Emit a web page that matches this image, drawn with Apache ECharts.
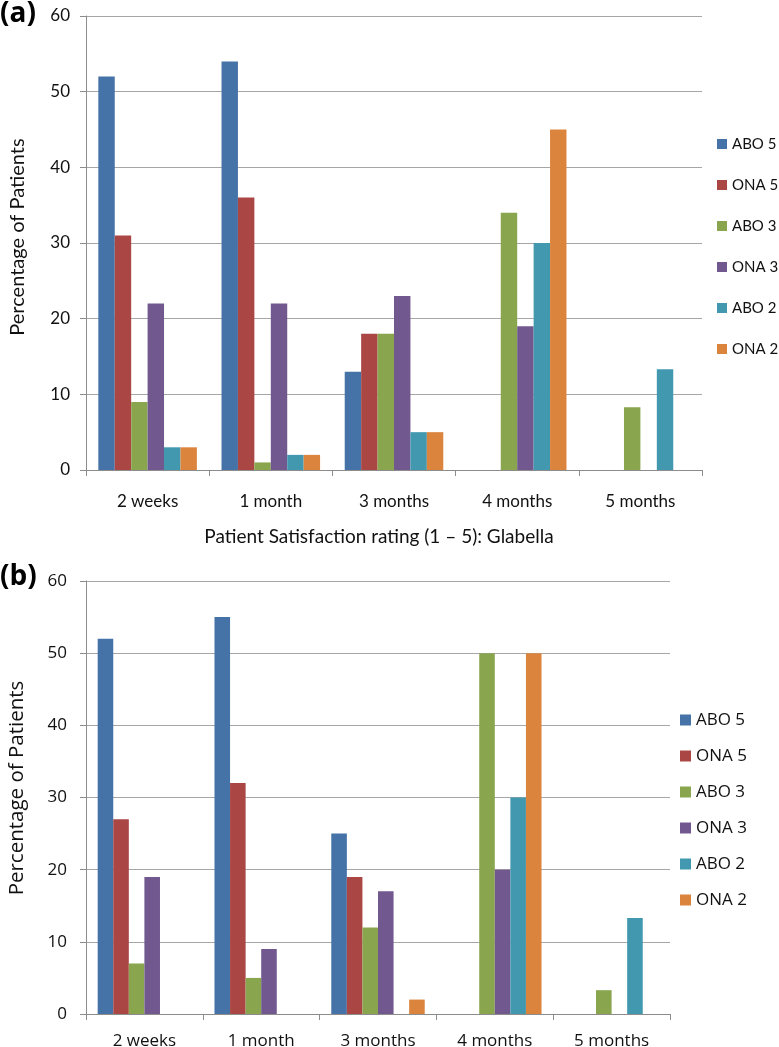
<!DOCTYPE html>
<html>
<head>
<meta charset="utf-8">
<script src="https://cdn.jsdelivr.net/npm/echarts@6/dist/echarts.min.js"></script>
<style>
  html, body { margin: 0; padding: 0; background: #fff; }
  #chart { width: 779px; height: 1047px; }
</style>
</head>
<body>
<div id="chart"></div>
<script>
// ---- data ----
const categories = ['2 weeks', '1 month', '3 months', '4 months', '5 months'];
const seriesNames = ['ABO 5', 'ONA 5', 'ABO 3', 'ONA 3', 'ABO 2', 'ONA 2'];
const yTicks = [0, 10, 20, 30, 40, 50, 60];

// Panel (a)
const abo5A = [52, 54, 13, null, null];
const ona5A = [31, 36, 18, null, null];
const abo3A = [9, 1, 18, 34, 8.3];
const ona3A = [22, 22, 23, 19, null];
const abo2A = [3, 2, 5, 30, 13.3];
const ona2A = [3, 2, 5, 45, null];

// Panel (b)
const abo5B = [52, 55, 25, null, null];
const ona5B = [27, 32, 19, null, null];
const abo3B = [7, 5, 12, 50, 3.3];
const ona3B = [19, 9, 17, 20, null];
const abo2B = [null, null, null, 30, 13.3];
const ona2B = [null, null, 2, 50, null];

const colors = ['#4573A7', '#AA4644', '#89A54E', '#71588F', '#4198AF', '#DB843D'];
const dataA = [abo5A, ona5A, abo3A, ona3A, abo2A, ona2A];
const dataB = [abo5B, ona5B, abo3B, ona3B, abo2B, ona2B];

const fontA = 'Lato, "Open Sans", sans-serif';
const fontB = '"Open Sans", sans-serif';
const gridColor = '#A6A6A6';
const axisColor = '#8C8C8C';

function makeSeries(data, idx) {
  return data.map((d, i) => ({
    name: seriesNames[i],
    type: 'bar',
    xAxisIndex: idx,
    yAxisIndex: idx,
    data: d,
    barGap: '0%',
    barCategoryGap: '20%',
    itemStyle: { color: colors[i] },
    emphasis: { disabled: true }
  }));
}

const chart = echarts.init(document.getElementById('chart'), null, { renderer: 'canvas' });
chart.setOption({
  animation: false,
  color: colors,
  grid: [
    { left: 86, right: 77, top: 16, bottom: 577, outerBoundsMode: 'none', containLabel: false },
    { left: 86, right: 109, top: 581, bottom: 33, outerBoundsMode: 'none', containLabel: false }
  ],
  legend: [
    {
      data: seriesNames, orient: 'vertical', left: 717, top: 135, padding: 0,
      itemWidth: 10, itemHeight: 10, itemGap: 23, icon: 'rect',
      textStyle: { fontFamily: fontA, fontSize: 15, lineHeight: 18, color: '#111' }
    },
    {
      data: seriesNames, orient: 'vertical', left: 680, top: 710, padding: 0,
      itemWidth: 11, itemHeight: 11, itemGap: 16, icon: 'rect',
      textStyle: { fontFamily: fontB, fontSize: 17, lineHeight: 20, color: '#111' }
    }
  ],
  xAxis: [
    {
      type: 'category', gridIndex: 0, data: categories,
      axisLine: { lineStyle: { color: axisColor } },
      axisTick: { show: true, length: 6, lineStyle: { color: axisColor } },
      axisLabel: { margin: 23, fontFamily: fontA, fontSize: 17, color: '#111' },
      name: 'Patient Satisfaction rating (1 \u2013 5): Glabella',
      nameLocation: 'middle', nameGap: 57,
      nameTextStyle: { fontFamily: fontA, fontSize: 19, color: '#111', padding: [0, 30, 0, 0] }
    },
    {
      type: 'category', gridIndex: 1, data: categories,
      axisLine: { lineStyle: { color: axisColor } },
      axisTick: { show: true, length: 6, lineStyle: { color: axisColor } },
      axisLabel: { margin: 19, fontFamily: fontB, fontSize: 17, color: '#111' }
    }
  ],
  yAxis: [
    {
      type: 'value', gridIndex: 0, min: yTicks[0], max: yTicks[yTicks.length - 1], interval: 10,
      axisLine: { show: true, lineStyle: { color: axisColor } },
      axisTick: { show: true, length: 6, lineStyle: { color: axisColor } },
      splitLine: { lineStyle: { color: gridColor, width: 1 } },
      axisLabel: { margin: 16, fontFamily: fontA, fontSize: 17, color: '#111' },
      name: 'Percentage of Patients', nameLocation: 'middle', nameGap: 58,
      nameTextStyle: { fontFamily: fontA, fontSize: 20, color: '#111', padding: [0, 0, 0, 12] }
    },
    {
      type: 'value', gridIndex: 1, min: yTicks[0], max: yTicks[yTicks.length - 1], interval: 10,
      axisLine: { show: true, lineStyle: { color: axisColor } },
      axisTick: { show: true, length: 6, lineStyle: { color: axisColor } },
      splitLine: { lineStyle: { color: gridColor, width: 1 } },
      axisLabel: { margin: 19, fontFamily: fontB, fontSize: 17, color: '#111' },
      name: 'Percentage of Patients', nameLocation: 'middle', nameGap: 58,
      nameTextStyle: { fontFamily: fontB, fontSize: 20.5, color: '#111', padding: [0, 0, 0, 19] }
    }
  ],
  graphic: [
    { type: 'text', left: 0, top: 0, style: { text: '(a)', font: 'bold 28px "Open Sans", sans-serif', fill: '#000' } },
    { type: 'text', left: 0, top: 563, style: { text: '(b)', font: 'bold 28px "Open Sans", sans-serif', fill: '#000' } }
  ],
  series: makeSeries(dataA, 0).concat(makeSeries(dataB, 1))
});
</script>
</body>
</html>
